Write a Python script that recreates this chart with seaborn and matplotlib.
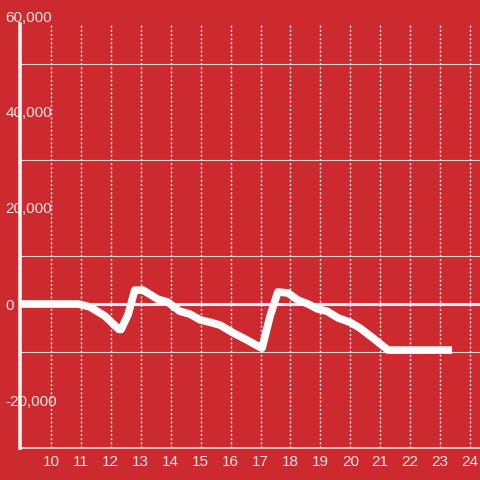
import matplotlib
matplotlib.use("Agg")
import matplotlib.pyplot as plt
import seaborn as sns

# values
hours = [8.96, 10.9, 11.3, 11.8, 12.27, 12.34, 12.57, 12.8, 13.07, 13.57, 13.9,
         14.3, 14.64, 14.98, 15.31, 15.65, 16.08, 16.55, 16.98, 17.05, 17.32,
         17.58, 17.92, 18.25, 18.59, 18.89, 19.22, 19.59, 19.99, 20.32, 20.76,
         21.26, 23.4]
values = [0, 0, -600, -2500, -5300, -5300, -2300, 2900, 2900, 1000, 400,
          -1500, -2100, -3300, -3800, -4400, -6000, -7500, -9000, -9200, -2500,
          2500, 2300, 800, 0, -1000, -1500, -2900, -3800, -5000, -7100,
          -9600, -9600]
x_ticks = list(range(10, 25))
y_ticks = [-20000, 0, 20000, 40000, 60000]
y_grid = [-20000, -10000, 0, 10000, 20000, 30000, 40000, 50000, 60000]

bg = "#cd2a2f"
txt = "#f4e4e4"
plt.rcParams["font.family"] = ["Liberation Sans", "DejaVu Sans"]

fig = plt.figure(figsize=(4.8, 4.8), dpi=100, facecolor=bg)
ax = fig.add_axes([20 / 480, 32 / 480, 460 / 480, 438 / 480])
ax.set_facecolor(bg)
ax.set_xlim(8.964, 24.333)
ax.set_ylim(-30000, 61250)
ax.set_axisbelow(True)

# horizontal grid
ax.set_yticks(y_grid, minor=True)
ax.grid(which="minor", axis="y", color="#d6d6d6", lw=0.8)
ax.set_yticks(y_ticks)
ax.set_yticklabels([f"{v:,}" for v in y_ticks])
ax.tick_params(axis="y", which="both", length=0, pad=10.5, labelsize=11,
               labelcolor=txt)
for lab in ax.get_yticklabels():
    lab.set_ha("left")
    lab.set_bbox(dict(facecolor=bg, edgecolor="none", pad=1.5))

# vertical dotted grid
ax.vlines(x_ticks, -30000, 58333, colors="#eeeeee", lw=1,
          linestyles=(0, (1.5, 1.5)), zorder=0.8)
ax.set_xticks(x_ticks)
ax.tick_params(axis="x", length=0, pad=5, labelsize=11, labelcolor=txt)

ax.axhline(0, color="#f2f2f2", lw=2.2, zorder=3)

sns.lineplot(x=hours, y=values, ax=ax, color="white", lw=5.5, zorder=4,
             solid_capstyle="butt")

for s in ["top", "right"]:
    ax.spines[s].set_visible(False)
ax.spines["bottom"].set_color("#dedede")
ax.spines["bottom"].set_linewidth(1.2)
ax.spines["left"].set_color("#f4f4f4")
ax.spines["left"].set_linewidth(2.6)
ax.spines["left"].set_bounds(-30000, 58333)
ax.spines["left"].set_zorder(3.5)

plt.savefig("out.png", dpi=100, facecolor=bg)
